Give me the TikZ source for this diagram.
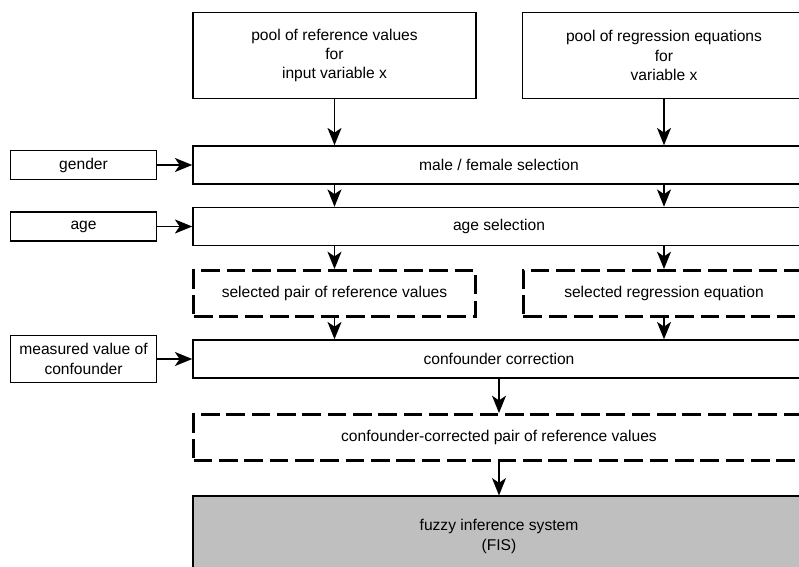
\documentclass[tikz,border=0pt]{standalone}
\usepackage{fontspec}
\setmainfont{Liberation Sans}
\usetikzlibrary{arrows.meta,positioning}

\begin{document}
\begin{tikzpicture}[x=0.75pt,y=-0.75pt,font=\fontsize{11.7}{14.6}\selectfont,
  bx/.style={draw,line width=1.1pt,align=center,inner sep=2pt},
  topbx/.style={bx,minimum width=212pt,minimum height=64.5pt},
  widebx/.style={bx,minimum width=459pt,minimum height=28.5pt},
  sidebx/.style={bx,minimum width=109.5pt,minimum height=21.75pt},
  selbx/.style={bx,line width=2.2pt,dash pattern=on 14pt off 5pt},
  arr/.style={-{Stealth[length=13pt,width=10.5pt,inset=3.5pt]},line width=1.1pt},
  node distance=26.25pt]
  \clip (0,0) rectangle (799,567);
  \node[topbx](refpool) at (334.5,55.5){pool of reference values\\for\\input variable x};
  \node[topbx](regpool) at (664,55.5){pool of regression equations\\for\\variable x};
  \node[widebx](sexsel) at (499,165){male / female selection};
  \node[widebx](agesel) at (499,226.5){age selection};
  \node[selbx,minimum width=211pt,minimum height=34.5pt](selpair) at (334.5,293.5){selected pair of reference values};
  \node[selbx,minimum width=211pt,minimum height=34.5pt](selreg) at (664,293.5){selected regression equation};
  \node[widebx](confcor) at (499,359){confounder correction};
  \node[selbx,minimum width=458pt,minimum height=34.5pt](ccpair) at (499,437.5){confounder-corrected pair of reference values};
  \node[bx,fill=black!25,minimum width=459pt,minimum height=60.5pt](fis) at (499,536.5){fuzzy inference system\\(FIS)};
  \node[sidebx,left=of sexsel](gender){gender};
  \node[sidebx,left=of agesel](age){age};
  \node[sidebx,minimum height=35.5pt,left=of confcor](measured){measured value of\\confounder};
  \draw[arr](refpool)--(refpool.south|-sexsel.north);\draw[arr](regpool)--(regpool.south|-sexsel.north);
  \draw[arr](refpool.south|-sexsel.south)--(refpool.south|-agesel.north);\draw[arr](regpool.south|-sexsel.south)--(regpool.south|-agesel.north);
  \draw[arr](selpair.north|-agesel.south)--(selpair);\draw[arr](selreg.north|-agesel.south)--(selreg);
  \draw[arr](selpair)--(selpair.south|-confcor.north);\draw[arr](selreg)--(selreg.south|-confcor.north);
  \draw[arr](confcor)--(ccpair);\draw[arr](ccpair)--(fis);
  \draw[arr](gender)--(sexsel);\draw[arr](age)--(agesel);\draw[arr](measured)--(confcor);
\end{tikzpicture}
\end{document}
